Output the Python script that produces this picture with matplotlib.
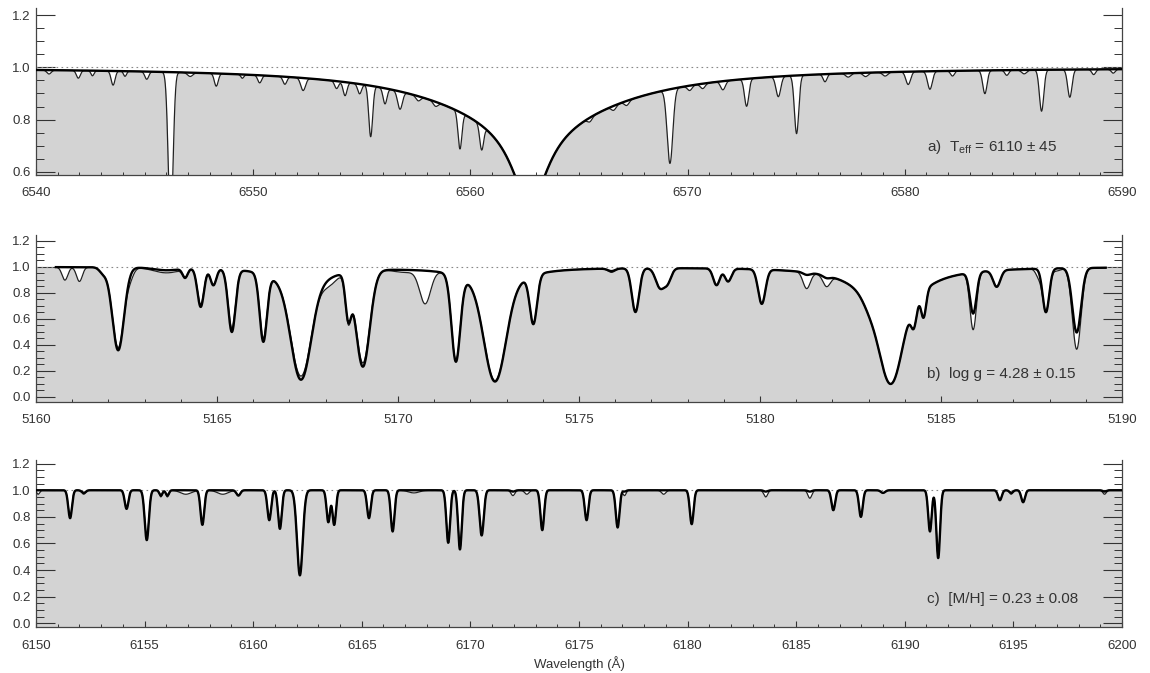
import numpy as np
import matplotlib
matplotlib.use("Agg")
import matplotlib.pyplot as plt
from matplotlib.ticker import MultipleLocator, FormatStrFormatter

plt.rcParams['font.family'] = ['Liberation Sans', 'DejaVu Sans']
plt.rcParams['mathtext.fontset'] = 'custom'
plt.rcParams['mathtext.rm'] = 'Liberation Sans'
plt.rcParams['mathtext.it'] = 'Liberation Sans'

# --- panel a : H-alpha region ---
a_xlim = (6540, 6590)
a_ylim = (0.588, 1.227)
halpha_center = [6562.74, 6562.74]
halpha_depth = [0.20, 0.40]
halpha_gamma = [5.0, 1.0]
# lines only seen in the observed spectrum (telluric + weak metal lines)
a_line_center = [6540.6, 6541.95, 6542.6, 6543.55, 6544.1, 6545.1, 6546.2, 6547.1,
                 6548.3, 6549.5, 6550.3, 6551.46, 6552.3, 6553.84, 6554.23, 6554.9,
                 6555.41, 6556.07, 6556.76, 6557.6, 6558.4, 6559.52, 6560.52, 6565.5,
                 6566.6, 6567.2, 6569.19, 6570.1, 6570.7, 6571.63, 6572.72, 6574.18,
                 6575.02, 6576.33, 6577.4, 6578.2, 6579.1, 6580.16, 6581.16, 6582.2,
                 6583.69, 6584.7, 6585.5, 6586.3, 6587.6, 6588.7, 6589.6]
a_line_depth = [0.015, 0.03, 0.02, 0.055, 0.02, 0.03, 0.60, 0.015,
                0.05, 0.015, 0.03, 0.03, 0.05, 0.03, 0.055, 0.04,
                0.21, 0.065, 0.075, 0.02, 0.02, 0.17, 0.12, 0.02,
                0.02, 0.02, 0.31, 0.02, 0.02, 0.035, 0.11, 0.08,
                0.23, 0.03, 0.015, 0.015, 0.015, 0.05, 0.07, 0.02,
                0.09, 0.02, 0.015, 0.16, 0.107, 0.02, 0.015]
a_line_sigma = [0.10, 0.09, 0.07, 0.09, 0.07, 0.09, 0.11, 0.12,
                0.09, 0.07, 0.09, 0.09, 0.11, 0.09, 0.09, 0.09,
                0.09, 0.09, 0.11, 0.11, 0.11, 0.09, 0.09, 0.11,
                0.11, 0.11, 0.13, 0.11, 0.11, 0.11, 0.10, 0.11,
                0.10, 0.09, 0.12, 0.12, 0.12, 0.11, 0.11, 0.09,
                0.10, 0.09, 0.12, 0.10, 0.10, 0.09, 0.09]

# --- panel b : Mg b triplet region ---
b_xlim = (5160, 5190)
b_ylim = (-0.037, 1.245)
b_data_range = (5160.55, 5189.55)
b_line_center = [5160.8, 5161.2, 5161.85, 5162.27, 5162.6, 5163.6, 5164.12, 5164.55,
                 5164.9, 5165.41, 5166.28, 5167.32, 5168.1, 5168.63, 5169.03, 5170.2,
                 5170.75, 5171.6, 5172.68, 5173.74, 5175.9, 5176.56, 5177.24, 5177.45,
                 5178.8, 5179.12, 5180.05, 5181.29, 5181.84, 5183.05, 5183.61, 5184.25,
                 5184.52, 5185.89, 5186.54, 5187.7, 5187.9, 5188.2, 5188.75]
b_model_depth = [0.0, 0.0, 0.04, 0.64, 0.0, 0.02, 0.07, 0.30,
                 0.13, 0.49, 0.55, 0.81, 0.0, 0.35, 0.76, 0.0,
                 0.0, 0.71, 0.83, 0.40, 0.02, 0.34, 0.15, 0.10,
                 0.13, 0.10, 0.27, 0.02, 0.02, 0.08, 0.80, 0.25,
                 0.25, 0.33, 0.13, 0.0, 0.34, 0.0, 0.50]
b_obs_depth = [0.10, 0.11, 0.04, 0.62, 0.06, 0.04, 0.07, 0.28,
               0.13, 0.46, 0.52, 0.77, 0.06, 0.37, 0.73, 0.02,
               0.26, 0.70, 0.82, 0.40, 0.03, 0.34, 0.15, 0.10,
               0.13, 0.10, 0.27, 0.13, 0.09, 0.08, 0.80, 0.25,
               0.25, 0.46, 0.13, 0.06, 0.34, 0.02, 0.63]
b_line_sigma = [0.08, 0.08, 0.10, 0.16, 0.10, 0.35, 0.07, 0.09,
                0.08, 0.10, 0.10, 0.25, 0.20, 0.08, 0.19, 0.30,
                0.15, 0.12, 0.27, 0.10, 0.10, 0.10, 0.12, 0.10,
                0.09, 0.09, 0.10, 0.10, 0.10, 0.20, 0.26, 0.08,
                0.07, 0.09, 0.10, 0.08, 0.09, 0.10, 0.12]
# pressure broadened wings of the three strong Mg lines
b_wing_center = [5167.32, 5172.68, 5183.61]
b_wing_depth = [0.30, 0.30, 0.50]
b_wing_gamma = [0.50, 0.55, 0.70]

# --- panel c : metallicity region ---
c_xlim = (6150, 6200)
c_ylim = (-0.03, 1.225)
c_line_center = [6150.1, 6151.57, 6152.2, 6154.17, 6155.1, 6155.75, 6156.05, 6156.9,
                 6157.66, 6158.6, 6159.32, 6160.74, 6161.23, 6162.15, 6163.46, 6163.73,
                 6165.33, 6166.42, 6167.4, 6168.98, 6169.52, 6170.52, 6171.96, 6172.6,
                 6173.31, 6175.35, 6176.78, 6177.1, 6178.9, 6180.19, 6183.6, 6185.63,
                 6186.71, 6187.98, 6189.0, 6191.16, 6191.54, 6194.38, 6194.9, 6195.45,
                 6199.2]
c_model_depth = [0.0, 0.21, 0.02, 0.14, 0.375, 0.04, 0.04, 0.0,
                 0.26, 0.0, 0.04, 0.225, 0.29, 0.64, 0.24, 0.26,
                 0.21, 0.31, 0.0, 0.395, 0.445, 0.34, 0.01, 0.0,
                 0.30, 0.225, 0.28, 0.01, 0.0, 0.255, 0.01, 0.01,
                 0.15, 0.20, 0.02, 0.31, 0.51, 0.075, 0.02, 0.09,
                 0.01]
c_obs_depth = [0.03, 0.20, 0.03, 0.14, 0.36, 0.05, 0.05, 0.03,
               0.25, 0.03, 0.04, 0.22, 0.28, 0.63, 0.24, 0.26,
               0.20, 0.30, 0.02, 0.39, 0.44, 0.33, 0.04, 0.03,
               0.29, 0.22, 0.27, 0.04, 0.03, 0.25, 0.05, 0.06,
               0.15, 0.20, 0.02, 0.31, 0.50, 0.075, 0.03, 0.09,
               0.03]
c_line_sigma = [0.07, 0.085, 0.09, 0.085, 0.095, 0.07, 0.07, 0.25,
                0.085, 0.25, 0.09, 0.085, 0.085, 0.13, 0.08, 0.08,
                0.085, 0.085, 0.25, 0.085, 0.085, 0.095, 0.09, 0.10,
                0.085, 0.085, 0.085, 0.07, 0.10, 0.085, 0.09, 0.09,
                0.085, 0.085, 0.10, 0.08, 0.085, 0.085, 0.08, 0.085,
                0.08]

labels = [r'a)  T$_{\rm eff}$ = 6110 ± 45',
          'b)  log g = 4.28 ± 0.15',
          'c)  [M/H] = 0.23 ± 0.08']

FILL = '#d3d3d3'


def gauss_lines(wave, centers, depths, sigmas):
    flux = np.ones_like(wave)
    for c, d, s in zip(centers, depths, sigmas):
        flux *= 1.0 - d * np.exp(-0.5 * ((wave - c) / s) ** 2)
    return flux


def lorentz_lines(wave, centers, depths, gammas):
    flux = np.ones_like(wave)
    for c, d, g in zip(centers, depths, gammas):
        flux *= 1.0 - d / (1.0 + ((wave - c) / g) ** 2)
    return flux


def draw_panel(ax, wave, model, obs, xlim, ylim, xmajor, label):
    # grey area under the observed spectrum, carried out to the frame edges
    wf = np.concatenate([[xlim[0]], wave, [xlim[1]]])
    ff = np.concatenate([[obs[0]], obs, [obs[-1]]])
    ax.fill_between(wf, ylim[0], ff, color=FILL, lw=0, zorder=1)
    ax.axhline(1.0, color='#888888', ls=(0, (1.5, 3)), lw=0.8, zorder=2)
    ax.plot(wave, obs, color='#222222', lw=0.9, zorder=3)
    ax.plot(wave, model, color='black', lw=1.7, zorder=4)
    ax.set_xlim(*xlim)
    ax.set_ylim(*ylim)

    ax.xaxis.set_major_locator(MultipleLocator(xmajor))
    ax.xaxis.set_minor_locator(MultipleLocator(1))
    ax.yaxis.set_major_locator(MultipleLocator(0.2))
    ax.yaxis.set_minor_locator(MultipleLocator(0.05))
    ax.yaxis.set_major_formatter(FormatStrFormatter('%.1f'))
    ax.tick_params(axis='y', which='both', direction='in', left=True, right=True,
                   labelsize=9.5, colors='#333333', pad=4)
    ax.tick_params(axis='y', which='major', length=14, width=0.8)
    ax.tick_params(axis='y', which='minor', length=6, width=0.7)
    ax.tick_params(axis='x', which='both', direction='in', top=False,
                   labelsize=9.5, colors='#333333', pad=9)
    ax.tick_params(axis='x', which='major', length=4, width=0.8)
    ax.tick_params(axis='x', which='minor', length=2, width=0.7)
    ax.spines['top'].set_visible(False)
    for s in ['left', 'right', 'bottom']:
        ax.spines[s].set_color('#444444')
        ax.spines[s].set_linewidth(0.9)
    ax.text(0.8205, 0.145, label, transform=ax.transAxes, fontsize=11,
            color='#333333', ha='left', va='baseline', zorder=5)


fig = plt.figure(figsize=(11.5, 6.73), dpi=100)
left, width, height = 0.0313, 0.9443, 0.248
ax_a = fig.add_axes([left, 0.740, width, height])
ax_b = fig.add_axes([left, 0.403, width, height])
ax_c = fig.add_axes([left, 0.068, width, height])

# panel a
wave_a = np.linspace(a_xlim[0], a_xlim[1], 5000)
model_a = lorentz_lines(wave_a, halpha_center, halpha_depth, halpha_gamma)
obs_a = model_a * gauss_lines(wave_a, a_line_center, a_line_depth, a_line_sigma)
draw_panel(ax_a, wave_a, model_a, obs_a, a_xlim, a_ylim, 10, labels[0])

# panel b
wave_b = np.linspace(b_data_range[0], b_data_range[1], 5000)
wings_b = lorentz_lines(wave_b, b_wing_center, b_wing_depth, b_wing_gamma)
model_b = wings_b * gauss_lines(wave_b, b_line_center, b_model_depth, b_line_sigma)
obs_b = wings_b * gauss_lines(wave_b, b_line_center, b_obs_depth, b_line_sigma)
draw_panel(ax_b, wave_b, model_b, obs_b, b_xlim, b_ylim, 5, labels[1])

# panel c
wave_c = np.linspace(c_xlim[0], c_xlim[1], 6000)
model_c = gauss_lines(wave_c, c_line_center, c_model_depth, c_line_sigma)
obs_c = gauss_lines(wave_c, c_line_center, c_obs_depth, c_line_sigma)
draw_panel(ax_c, wave_c, model_c, obs_c, c_xlim, c_ylim, 5, labels[2])
ax_c.set_xlabel('Wavelength (Å)', fontsize=9.5, color='#333333', labelpad=3)

fig.savefig('out.png', dpi=100)
